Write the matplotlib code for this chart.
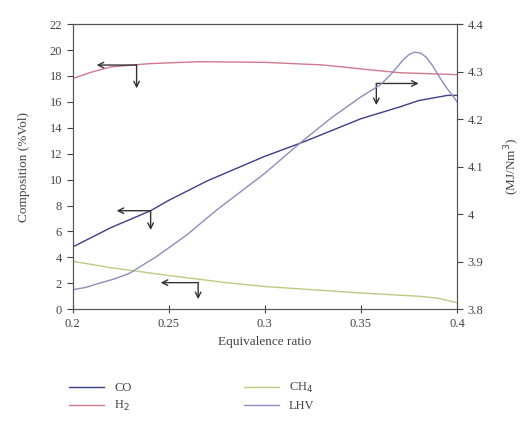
import numpy as np
import matplotlib
matplotlib.use("Agg")
import matplotlib.pyplot as plt

plt.rcParams['font.family'] = ['Liberation Serif', 'DejaVu Serif']

# gas composition (%Vol) against equivalence ratio
phi_co = [0.20, 0.22, 0.2406, 0.25, 0.27, 0.30, 0.32, 0.35, 0.37, 0.38, 0.395, 0.40]
co = [4.8, 6.3, 7.6, 8.4, 9.9, 11.8, 12.9, 14.7, 15.6, 16.1, 16.5, 16.5]

phi_h2 = [0.20, 0.21, 0.22, 0.24, 0.266, 0.30, 0.33, 0.353, 0.37, 0.40]
h2 = [17.8, 18.3, 18.7, 18.95, 19.1, 19.05, 18.85, 18.5, 18.25, 18.1]

phi_ch4 = [0.20, 0.22, 0.25, 0.28, 0.30, 0.33, 0.35, 0.38, 0.39, 0.40]
ch4 = [3.7, 3.2, 2.6, 2.05, 1.75, 1.45, 1.25, 1.0, 0.85, 0.5]

# lower heating value (MJ/Nm3), right axis
phi_lhv = [0.20, 0.207, 0.2142, 0.222, 0.2298, 0.2437, 0.2593, 0.275, 0.30, 0.319,
           0.335, 0.35, 0.36, 0.366, 0.372, 0.375, 0.378, 0.381, 0.384, 0.387,
           0.390, 0.393, 0.396, 0.398, 0.40]
lhv = [3.841, 3.846, 3.855, 3.864, 3.876, 3.911, 3.956, 4.009, 4.086, 4.152,
       4.204, 4.247, 4.272, 4.296, 4.325, 4.336, 4.341, 4.339, 4.330, 4.314,
       4.294, 4.275, 4.258, 4.248, 4.236]

txt = '#444444'
fig = plt.figure(figsize=(5.26, 4.23), dpi=100)
ax = fig.add_axes([0.138, 0.269, 0.731, 0.674])
ax2 = ax.twinx()

l_co, = ax.plot(phi_co, co, color='#3b3f86', lw=1.0, label='CO')
l_h2, = ax.plot(phi_h2, h2, color='#d07a8c', lw=1.0, label='H$_2$')
l_ch4, = ax.plot(phi_ch4, ch4, color='#bccb84', lw=1.0, label='CH$_4$')
l_lhv, = ax2.plot(phi_lhv, lhv, color='#8a90b8', lw=1.0, label='LHV')

ax.set_xlim(0.2, 0.4)
ax.set_ylim(0, 22)
ax2.set_ylim(3.8, 4.4)
ax.set_xticks([0.2, 0.25, 0.3, 0.35, 0.4])
ax.set_xticklabels(['0.2', '0.25', '0.3', '0.35', '0.4'])
ax.set_yticks(np.arange(0, 23, 2))
ax2.set_yticks([3.8, 3.9, 4.0, 4.1, 4.2, 4.3, 4.4])
ax2.set_yticklabels(['3.8', '3.9', '4', '4.1', '4.2', '4.3', '4.4'])

for a in (ax, ax2):
    for s in a.spines.values():
        s.set_color('#555555')
    a.tick_params(colors=txt, labelsize=9, length=4, width=0.8)
ax.tick_params(axis='x', direction='inout', length=6)

ax.set_xlabel('Equivalence ratio', color=txt, fontsize=9.5)
ax.set_ylabel('Composition (%Vol)', color=txt, fontsize=9.5, labelpad=14)
ax2.set_ylabel('(MJ/Nm$^3$)', color=txt, fontsize=9.5, labelpad=14)

# L-shaped arrows showing which axis each curve belongs to
corners = [(0.2333, 18.84), (0.2406, 7.6), (0.2653, 2.05), (0.358, 17.42)]
heads_x = [0.2125, 0.2229, 0.2458, 0.380]
heads_y = [17.04, 6.11, 0.77, 15.75]
for (cx, cy), hx, hy in zip(corners, heads_x, heads_y):
    ax.annotate('', xy=(hx, cy), xytext=(cx, cy),
                arrowprops=dict(arrowstyle='->', color='#333333', lw=1.0,
                                shrinkA=0, shrinkB=0))
    ax.annotate('', xy=(cx, hy), xytext=(cx, cy),
                arrowprops=dict(arrowstyle='->', color='#333333', lw=1.0,
                                shrinkA=0, shrinkB=0))

fig.legend(handles=[l_co, l_h2, l_ch4, l_lhv], ncol=2, frameon=False,
           loc='upper left', bbox_to_anchor=(0.11, 0.125), fontsize=9,
           handlelength=2.8, columnspacing=9, labelspacing=0.4,
           labelcolor=txt)

fig.savefig('out.png', dpi=100)
